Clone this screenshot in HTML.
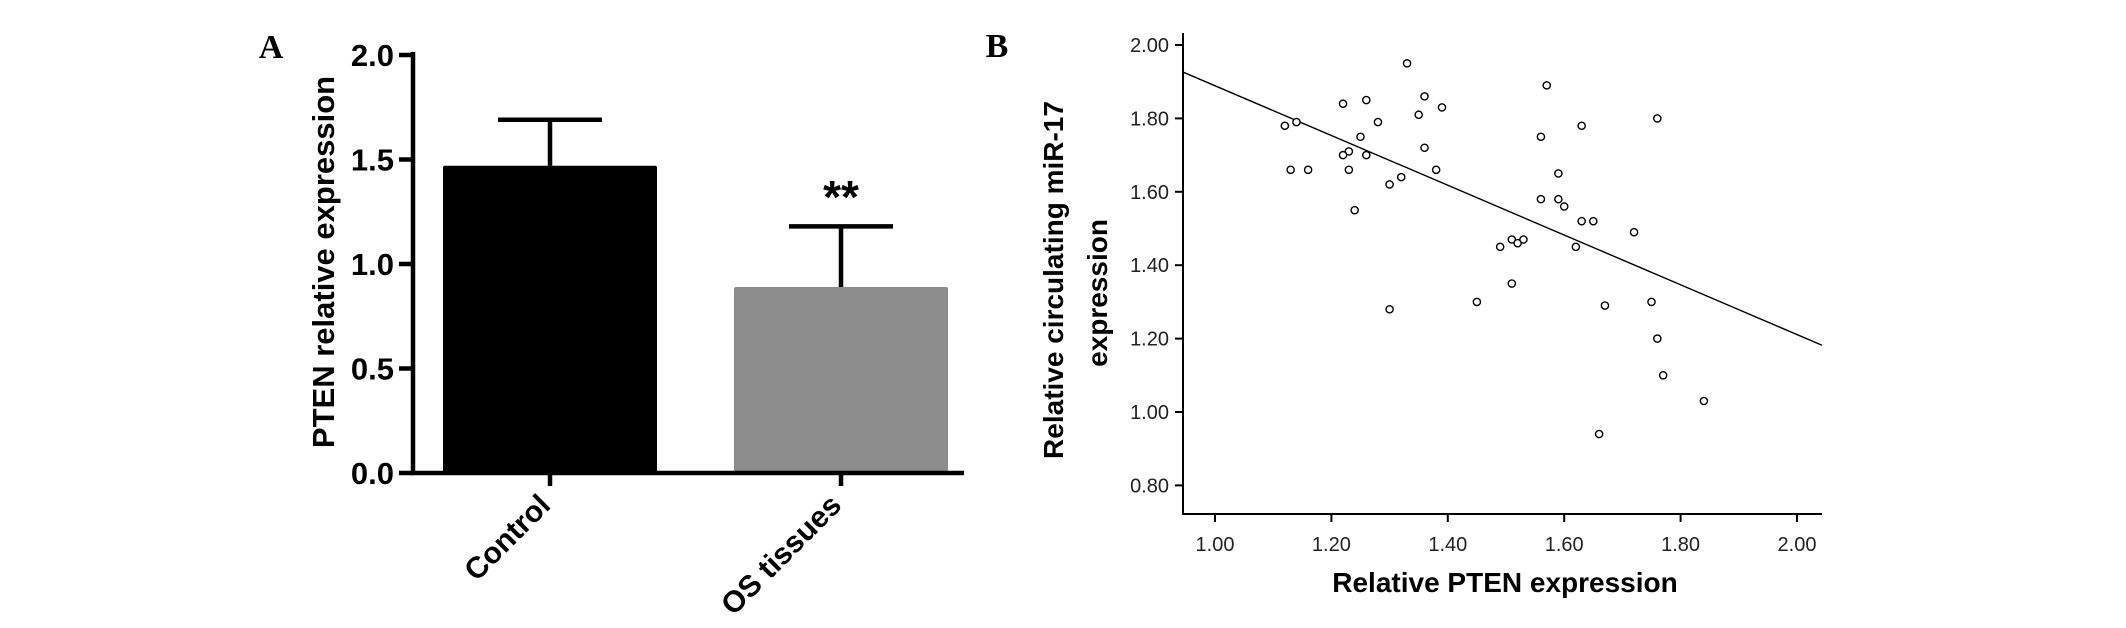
<!DOCTYPE html>
<html><head><meta charset="utf-8">
<style>
html,body{margin:0;padding:0;background:#fff;}
svg{display:block;}
</style></head>
<body>
<svg id="fig" width="2126" height="628" viewBox="0 0 2126 628" xmlns="http://www.w3.org/2000/svg">
<g id="pa"></g>
<g id="pb"></g>
</svg>
<script>
// ---- Panel A data ----
const barCategories = ["Control", "OS tissues"];
const barValues = [1.47, 0.89];
const barErrors = [0.22, 0.29];
const barColors = ["#000000", "#8c8c8c"];
const aTicks = [0.0, 0.5, 1.0, 1.5, 2.0];
const aTickLabels = ["0.0", "0.5", "1.0", "1.5", "2.0"];

// ---- Panel B data ----
const pxValues = [1.33,1.57,1.22,1.26,1.36,1.39,1.35,1.28,1.76,1.63,1.12,1.14,1.25,1.56,1.36,1.23,1.22,1.26,1.13,1.16,1.23,1.38,1.32,1.30,1.59,1.24,1.56,1.59,1.60,1.63,1.65,1.72,1.51,1.52,1.53,1.49,1.62,1.51,1.30,1.45,1.67,1.75,1.76,1.77,1.84,1.66];
const pyValues = [1.95,1.89,1.84,1.85,1.86,1.83,1.81,1.79,1.80,1.78,1.78,1.79,1.75,1.75,1.72,1.71,1.70,1.70,1.66,1.66,1.66,1.66,1.64,1.62,1.65,1.55,1.58,1.58,1.56,1.52,1.52,1.49,1.47,1.46,1.47,1.45,1.45,1.35,1.28,1.30,1.29,1.30,1.20,1.10,1.03,0.94];
const fitSlope = -0.678;
const fitIntercept = 2.567;
const bxTicks = [1.00,1.20,1.40,1.60,1.80,2.00];
const bxTickLabels = ["1.00","1.20","1.40","1.60","1.80","2.00"];
const byTicks = [0.80,1.00,1.20,1.40,1.60,1.80,2.00];
const byTickLabels = ["0.80","1.00","1.20","1.40","1.60","1.80","2.00"];

const NS = "http://www.w3.org/2000/svg";
function mk(parent, tag, attrs, text){
  const e = document.createElementNS(NS, tag);
  for (const k in attrs) e.setAttribute(k, attrs[k]);
  if (text !== undefined) e.textContent = text;
  parent.appendChild(e);
  return e;
}

// ===== Panel A =====
const pa = document.getElementById('pa');
const aX0 = 413, aBase = 473, aTop = 55;
const ay = v => aBase - (v / 2.0) * (aBase - aTop);
const aCenters = [550, 841];
const aBarW = 214;
const ax = i => aCenters[i];

let t = mk(pa, 'text', {x:271, y:58, 'font-family':'Liberation Serif, serif', 'font-weight':'bold', 'font-size':34, 'text-anchor':'middle'}, 'A');



barValues.forEach((v, i) => {
  const r = mk(pa, 'rect', {x: ax(i) - aBarW/2, y: ay(v), width: aBarW, height: aBase - ay(v), fill: barColors[i], rx: 2});
  
  
  const top = ay(v + barErrors[i]);
  const el = mk(pa, 'path', {d: `M${ax(i)},${ay(v)} V${top} M${ax(i)-52},${top} H${ax(i)+52}`, stroke: '#000', 'stroke-width': 4.5, fill: 'none'});
  
  
});

let ln = mk(pa, 'path', {d: `M${aX0},${aTop-3} V${aBase} H964`, stroke:'#000', 'stroke-width':4.5, fill:'none'});



aTicks.forEach((v, i) => {
  const tk = mk(pa, 'line', {x1: aX0-14, x2: aX0, y1: ay(v), y2: ay(v), stroke:'#000', 'stroke-width':4.5});
  
  
  const lb = mk(pa, 'text', {x: aX0-19, y: ay(v)+11, 'font-family':'Liberation Sans, sans-serif', 'font-weight':'bold', 'font-size':31, 'text-anchor':'end'}, aTickLabels[i]);
  
  
});

barCategories.forEach((c, i) => {
  const tk = mk(pa, 'line', {x1: ax(i), x2: ax(i), y1: aBase, y2: aBase+13, stroke:'#000', 'stroke-width':4.5});
  
  
  const lb = mk(pa, 'text', {x: 0, y: 0, transform: `translate(${ax(i)+2},${aBase+34}) rotate(-45)`, 'font-family':'Liberation Sans, sans-serif', 'font-weight':'bold', 'font-size':30, 'text-anchor':'end'}, c);
  
  
});

t = mk(pa, 'text', {x:0, y:0, transform:`translate(334,262) rotate(-90)`, 'font-family':'Liberation Sans, sans-serif', 'font-weight':'bold', 'font-size':31, 'text-anchor':'middle'}, 'PTEN relative expression');



t = mk(pa, 'text', {x:aCenters[1], y:213, 'font-family':'Liberation Sans, sans-serif', 'font-weight':'bold', 'font-size':46, 'text-anchor':'middle'}, '**');



// ===== Panel B =====
const pb = document.getElementById('pb');
const bX0 = 1183, bBase = 514, bRight = 1822;
const bx = v => 1215 + (v - 1.0) * 582;
const by = v => 45 + (2.0 - v) * 367;

t = mk(pb, 'text', {x:997, y:57, 'font-family':'Liberation Serif, serif', 'font-weight':'bold', 'font-size':34, 'text-anchor':'middle'}, 'B');



ln = mk(pb, 'path', {d:`M${bX0},33 V${bBase} H${bRight}`, stroke:'#000', 'stroke-width':2, fill:'none'});



byTicks.forEach((v, i) => {
  const tk = mk(pb, 'line', {x1:bX0-8, x2:bX0, y1:by(v), y2:by(v), stroke:'#000', 'stroke-width':2});
  
  
  const lb = mk(pb, 'text', {x:bX0-14, y:by(v)+7, 'font-family':'Liberation Sans, sans-serif', 'font-size':20, fill:'#222', 'text-anchor':'end'}, byTickLabels[i]);
  
  
});
bxTicks.forEach((v, i) => {
  const tk = mk(pb, 'line', {x1:bx(v), x2:bx(v), y1:bBase, y2:bBase+8, stroke:'#000', 'stroke-width':2});
  
  
  const lb = mk(pb, 'text', {x:bx(v), y:551, 'font-family':'Liberation Sans, sans-serif', 'font-size':20, fill:'#222', 'text-anchor':'middle'}, bxTickLabels[i]);
  
  
});

const fx0 = 0.945, fx1 = 2.043;
const fit = mk(pb, 'line', {x1:bx(fx0), y1:by(fitIntercept + fitSlope*fx0), x2:bx(fx1), y2:by(fitIntercept + fitSlope*fx1), stroke:'#000', 'stroke-width':1.4});



pxValues.forEach((xv, i) => {
  const c = mk(pb, 'circle', {cx:bx(xv), cy:by(pyValues[i]), r:3.6, fill:'#fff', stroke:'#000', 'stroke-width':1.4});
  
  
});

t = mk(pb, 'text', {x:1505, y:592, 'font-family':'Liberation Sans, sans-serif', 'font-weight':'bold', 'font-size':28, 'text-anchor':'middle'}, 'Relative PTEN expression');



t = mk(pb, 'text', {x:0, y:0, transform:'translate(1063,280) rotate(-90)', 'font-family':'Liberation Sans, sans-serif', 'font-weight':'bold', 'font-size':28, 'text-anchor':'middle'}, 'Relative circulating miR-17');


t = mk(pb, 'text', {x:0, y:0, transform:'translate(1107,293) rotate(-90)', 'font-family':'Liberation Sans, sans-serif', 'font-weight':'bold', 'font-size':28, 'text-anchor':'middle'}, 'expression');


</script>
</body></html>
